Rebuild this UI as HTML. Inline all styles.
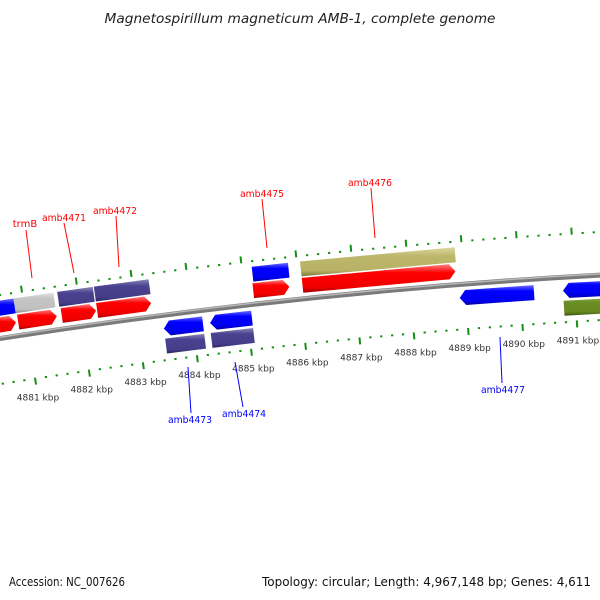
<!DOCTYPE html>
<html><head><meta charset="utf-8"><style>
body{margin:0;background:#fff}
svg{display:block}
text{font-family:"DejaVu Sans","Liberation Sans",sans-serif}
</style></head><body>
<svg id="map" width="600" height="600" viewBox="0 0 600 600">
<defs>
<linearGradient id="gRed" x1="0" y1="0" x2="0" y2="1"><stop offset="0" stop-color="#ff8080"/><stop offset="0.3" stop-color="#ff0000"/><stop offset="0.8" stop-color="#f00000"/><stop offset="1" stop-color="#a00000"/></linearGradient>
<linearGradient id="gBlue" x1="0" y1="0" x2="0" y2="1"><stop offset="0" stop-color="#7070ff"/><stop offset="0.3" stop-color="#0000ff"/><stop offset="0.8" stop-color="#0000f0"/><stop offset="1" stop-color="#0000a0"/></linearGradient>
<linearGradient id="gPurple" x1="0" y1="0" x2="0" y2="1"><stop offset="0" stop-color="#8c88b8"/><stop offset="0.3" stop-color="#4a4290"/><stop offset="0.8" stop-color="#463e88"/><stop offset="1" stop-color="#2a2460"/></linearGradient>
<linearGradient id="gGrey" x1="0" y1="0" x2="0" y2="1"><stop offset="0" stop-color="#e4e4e4"/><stop offset="0.3" stop-color="#c4c4c4"/><stop offset="0.8" stop-color="#c0c0c0"/><stop offset="1" stop-color="#8c8c8c"/></linearGradient>
<linearGradient id="gKhaki" x1="0" y1="0" x2="0" y2="1"><stop offset="0" stop-color="#dcd8a0"/><stop offset="0.3" stop-color="#bdb76b"/><stop offset="0.8" stop-color="#b8b266"/><stop offset="1" stop-color="#7c7840"/></linearGradient>
<linearGradient id="gGreen" x1="0" y1="0" x2="0" y2="1"><stop offset="0" stop-color="#9cb060"/><stop offset="0.3" stop-color="#6b8e23"/><stop offset="0.8" stop-color="#668820"/><stop offset="1" stop-color="#3c5410"/></linearGradient>
</defs>
<text x="300" y="23" text-anchor="middle" font-size="13" font-style="italic" fill="#222" textLength="391" lengthAdjust="spacingAndGlyphs">Magnetospirillum magneticum AMB-1, complete genome</text>
<g id="backbone-g"></g>
<g id="ticks-g"></g>
<g id="genes-g"></g>
<g id="labels-g"></g>
<text x="9" y="586" font-size="12" fill="#111" textLength="116" lengthAdjust="spacingAndGlyphs">Accession: NC_007626</text>
<text x="591" y="586" text-anchor="end" font-size="12" fill="#111" textLength="329" lengthAdjust="spacingAndGlyphs">Topology: circular; Length: 4,967,148 bp; Genes: 4,611</text>
</svg>
<script>
// ---- data ----
const upperStarts = [4880.2, 4880.83, 4881.63, 4882.30, 4885.18, 4886.06];
const upperEnds   = [4880.83, 4881.56, 4882.28, 4883.30, 4885.84, 4888.87];
const upperColors = ['gBlue','gGrey','gPurple','gPurple','gBlue','gKhaki'];
const fwdStarts = [4880.2, 4880.85, 4881.65, 4882.30, 4885.16, 4886.06];
const fwdEnds   = [4880.81, 4881.56, 4882.28, 4883.29, 4885.82, 4888.85];
const revStarts = [4883.46, 4884.31, 4888.89, 4890.78];
const revEnds   = [4884.18, 4885.08, 4890.25, 4892.2];
const lowerStarts = [4883.46, 4884.30, 4890.78];
const lowerEnds   = [4884.18, 4885.08, 4892.2];
const lowerColors = ['gPurple','gPurple','gGreen'];
const tickLabelsKbp = [4881,4882,4883,4884,4885,4886,4887,4888,4889,4890,4891];
const geneNames = ['trmB','amb4471','amb4472','amb4475','amb4476','amb4473','amb4474','amb4477'];
const geneLabelStrand = ['f','f','f','f','f','r','r','r'];
// ---- geometry ----
const CX=930, CY=6266, R=6000;
const ang = k => (-7.0697 + (k-4884)*0.5243)*Math.PI/180;
const pt = (k,d) => { const r=R-d, a=ang(k); return [CX + r*Math.sin(a), CY - r*Math.cos(a)]; };
const NS='http://www.w3.org/2000/svg';
function mk(tag, attrs, parent){ const e=document.createElementNS(NS,tag); for(const k in attrs) e.setAttribute(k,attrs[k]); parent.appendChild(e); return e; }
function arcPath(k0,k1,d){ const a=pt(k0,d), b=pt(k1,d); return `M${a[0]},${a[1]} A${R-d},${R-d} 0 0 1 ${b[0]},${b[1]}`; }
// backbone
const bb=document.getElementById('backbone-g');
const b1=mk('path',{d:arcPath(4879.5,4892.5,0),stroke:'#7a7a7a','stroke-width':5,fill:'none'},bb);


const b2=mk('path',{d:arcPath(4879.5,4892.5,-1.2),stroke:'#b8b8b8','stroke-width':1.5,fill:'none'},bb);


// gene drawing
const gg=document.getElementById('genes-g');
const HW=7.5, HEAD=0.11;
function gene(k0,k1,d,fill,dir,name){
  let pts;
  if(dir==='r'){ const h=Math.min(HEAD,(k1-k0)/2);
    pts=[pt(k0+h,d-HW),pt(k1,d-HW),pt(k1,d+HW),pt(k0+h,d+HW),pt(k0,d)];
  } else if(dir==='f'){ const h=Math.min(HEAD,(k1-k0)/2);
    pts=[pt(k0,d-HW),pt(k1-h,d-HW),pt(k1,d),pt(k1-h,d+HW),pt(k0,d+HW)];
  } else pts=[pt(k0,d-HW),pt(k1,d-HW),pt(k1,d+HW),pt(k0,d+HW)];
  const p=mk('polygon',{points:pts.map(q=>q.join(',')).join(' '),fill:`url(#${fill})`},gg);
  
  
}
upperStarts.forEach((s,i)=>gene(s,upperEnds[i],-30,upperColors[i],'n','feature-outer-'+i));
fwdStarts.forEach((s,i)=>gene(s,fwdEnds[i],-13.5,'gRed','f','forward-gene-'+i));
revStarts.forEach((s,i)=>gene(s,revEnds[i],13.5,'gBlue','r','reverse-gene-'+i));
lowerStarts.forEach((s,i)=>gene(s,lowerEnds[i],31,lowerColors[i],'n','feature-inner-'+i));
// ticks
const tg=document.getElementById('ticks-g');
for(let i=0;i<=65;i++){
  const k=4879.6+i*0.2; const major=Math.abs(k-Math.round(k))<0.01;
  [[-42,-1],[44,1]].forEach(([d,s])=>{
    const a=pt(k,d), b=pt(k,d+s*(major?7:2));
    const t=mk('line',{x1:a[0],y1:a[1],x2:b[0],y2:b[1],stroke:'#139013','stroke-width':major?2:2.2},tg);
    
    
  });
}
tickLabelsKbp.forEach(k=>{
  const p=pt(k,64);
  const t=mk('text',{x:p[0],y:p[1]+3,'text-anchor':'middle','font-size':9,fill:'#333'},tg);
  t.textContent=k+' kbp';
  
  
});
// gene labels
const labelX=[25,64,115,262,370,190,244,503], labelY=[227,221,214,197,186,423,417,393];
const leaderA=[[26,230],[64,223],[116,216],[262,199],[371,188],[188,367],[235,362],[500,337]];
const leaderB=[[32,278],[74,273],[119,267],[267,248],[375,238],[191,413],[243,407],[502,383]];
const lg=document.getElementById('labels-g');
geneNames.forEach((n,i)=>{
  const col=geneLabelStrand[i]==='f'?'#ff0000':'#0000ff';
  const l=mk('line',{x1:leaderA[i][0],y1:leaderA[i][1],x2:leaderB[i][0],y2:leaderB[i][1],stroke:col,'stroke-width':1},lg);
  
  
  const t=mk('text',{x:labelX[i],y:labelY[i],'text-anchor':'middle','font-size':10,fill:col},lg);
  if(n.length>4){t.setAttribute('textLength',44);t.setAttribute('lengthAdjust','spacingAndGlyphs');}
  t.textContent=n;
  
  
});
</script>
</body></html>
